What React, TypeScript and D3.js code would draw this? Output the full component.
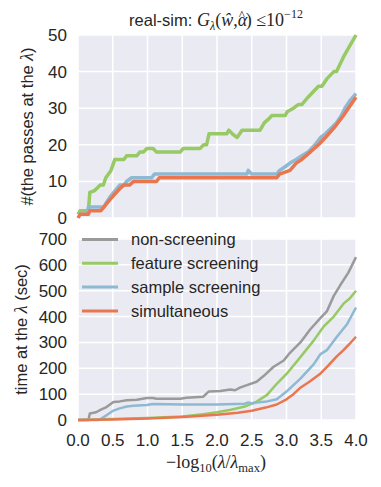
import React from "react";
import * as d3 from "d3";

const W = 381;
const H = 487;

// x ticks
const xTicks = [0, 0.5, 1, 1.5, 2, 2.5, 3, 3.5, 4];
const xTickLabels = ["0.0", "0.5", "1.0", "1.5", "2.0", "2.5", "3.0", "3.5", "4.0"];
const passesTicks = [0, 10, 20, 30, 40, 50];
const timeTicks = [0, 100, 200, 300, 400, 500, 600, 700];

// Top plot: number of passes
const featPassX = [0, 0.03, 0.15, 0.17, 0.24, 0.32, 0.365, 0.4, 0.475, 0.53, 0.66, 0.7, 0.845, 0.89, 0.94, 0.99, 1.08, 1.13, 1.47, 1.515, 1.755, 1.81, 1.85, 1.885, 2.14, 2.17, 2.22, 2.29, 2.36, 2.62, 2.68, 2.74, 2.79, 2.98, 3.01, 3.1, 3.17, 3.22, 3.31, 3.46, 3.51, 3.58, 3.68, 3.72, 3.82, 3.91, 4.0];
const featPassY = [1, 2, 2, 7, 7.5, 9, 9, 11, 13, 16, 16, 17, 17, 18, 18, 19, 19, 18, 18, 19, 19, 20, 20, 23, 23, 24, 23, 22, 24, 24, 26, 27, 28, 28, 29, 30, 31, 31, 33, 36, 36, 38, 40, 40, 44, 47, 50];

const sampPassX = [0, 0.13, 0.15, 0.37, 0.4, 0.47, 0.6, 0.66, 0.7, 0.77, 1.06, 1.1, 2.43, 2.45, 2.5, 2.86, 2.9, 2.98, 3.05, 3.14, 3.22, 3.31, 3.41, 3.49, 3.56, 3.72, 3.79, 3.84, 3.91, 4.0];
const sampPassY = [1, 1, 3, 3, 4, 6, 9, 9, 10, 11, 11, 12, 12, 13, 12, 12, 13, 14, 15, 16, 17, 18, 20, 22, 23, 26, 28, 30, 32, 34];

const simPassX = [0, 0.03, 0.15, 0.17, 0.33, 0.46, 0.53, 0.6, 0.66, 0.74, 0.8, 1.13, 1.17, 2.86, 2.9, 3.05, 3.14, 3.22, 3.34, 3.46, 3.56, 3.7, 3.82, 3.89, 4.0];
const simPassY = [0, 1, 1, 2, 2, 5, 6.5, 8, 9, 9, 10, 10, 11, 11, 12, 13, 15, 16, 18, 20, 22, 25, 28, 30, 33];

// Bottom plot: time (sec)
const nonTimeX = [0, 0.15, 0.17, 0.26, 0.33, 0.41, 0.51, 0.6, 0.7, 0.845, 0.99, 1.08, 1.13, 1.47, 1.56, 1.8, 1.88, 2.05, 2.19, 2.26, 2.33, 2.43, 2.57, 2.67, 2.81, 2.96, 3.05, 3.2, 3.34, 3.49, 3.58, 3.68, 3.77, 3.89, 4.0];
const nonTimeY = [0, 0, 25, 30, 40, 50, 70, 72, 76, 78, 85, 85, 82, 82, 86, 90, 110, 112, 118, 115, 125, 135, 148, 170, 205, 230, 260, 300, 350, 395, 420, 480, 520, 570, 630];

const featTimeX = [0, 0.5, 1.0, 1.5, 1.8, 2.0, 2.2, 2.4, 2.57, 2.72, 2.86, 3.0, 3.2, 3.39, 3.53, 3.68, 3.82, 3.91, 4.0];
const featTimeY = [0, 4, 8, 14, 22, 30, 40, 52, 71, 97, 140, 178, 243, 307, 360, 400, 450, 470, 500];

const sampTimeX = [0, 0.3, 0.33, 0.42, 0.5, 0.6, 0.7, 0.8, 0.99, 1.08, 1.5, 2.0, 2.4, 2.45, 2.5, 2.57, 2.72, 2.86, 3.0, 3.2, 3.39, 3.49, 3.58, 3.72, 3.87, 4.0];
const sampTimeY = [0, 0, 5, 20, 35, 45, 52, 55, 58, 62, 60, 60, 63, 68, 64, 68, 72, 80, 110, 160, 215, 255, 270, 320, 370, 435];

const simTimeX = [0, 0.5, 1.0, 1.5, 2.0, 2.3, 2.5, 2.7, 2.86, 3.0, 3.1, 3.2, 3.34, 3.49, 3.6, 3.72, 3.82, 3.91, 4.0];
const simTimeY = [0, 2, 6, 12, 20, 28, 36, 48, 60, 80, 100, 125, 150, 180, 210, 245, 270, 295, 322];

const legendLabels = ["non-screening", "feature screening", "sample screening", "simultaneous"];

const GRAY = "#9a9a9a";
const GREEN = "#97c965";
const BLUE = "#8db9d3";
const ORANGE = "#ea764f";
const BG = "#eaeaf2";
const SANS = "Liberation Sans, Arial, sans-serif";
const SERIF = "Liberation Serif, Times New Roman, serif";
const TICK_FS = 17;

const X0 = 78;
const X1 = 356;

const x = d3.scaleLinear().domain([0, 4]).range([X0, X1]);
const yTop = d3.scaleLinear().domain([0, 50]).range([218, 35]);
const yBot = d3.scaleLinear().domain([0, 700]).range([420, 239]);

function path(xs: number[], ys: number[], y: d3.ScaleLinear<number, number>) {
  const pts = xs.map((v, i) => [v, ys[i]] as [number, number]);
  return d3
    .line<[number, number]>()
    .x((d) => x(d[0]))
    .y((d) => y(d[1]))(pts) as string;
}

function Grid({ y, ticks }: { y: d3.ScaleLinear<number, number>; ticks: number[] }) {
  const [yb, yt] = y.range();
  return (
    <g>
      <rect x={X0} y={yt} width={X1 - X0} height={yb - yt} fill={BG} />
      {xTicks.map((t) => (
        <line key={"x" + t} x1={x(t)} x2={x(t)} y1={yt} y2={yb} stroke="#fff" strokeWidth={1.5} />
      ))}
      {ticks.map((t) => (
        <line key={"y" + t} x1={X0} x2={X1} y1={y(t)} y2={y(t)} stroke="#fff" strokeWidth={1.5} />
      ))}
      {ticks.map((t) => (
        <text key={"l" + t} x={67} y={y(t)} dy="0.35em" textAnchor="end" fontFamily={SANS} fontSize={TICK_FS} fill="#262626">
          {t}
        </text>
      ))}
    </g>
  );
}

export default function App() {
  const topSeries = [
    { xs: featPassX, ys: featPassY, c: GREEN },
    { xs: sampPassX, ys: sampPassY, c: BLUE },
    { xs: simPassX, ys: simPassY, c: ORANGE },
  ];
  const botSeries = [
    { xs: nonTimeX, ys: nonTimeY, c: GRAY },
    { xs: featTimeX, ys: featTimeY, c: GREEN },
    { xs: sampTimeX, ys: sampTimeY, c: BLUE },
    { xs: simTimeX, ys: simTimeY, c: ORANGE },
  ];
  const legendColors = [GRAY, GREEN, BLUE, ORANGE];
  return (
    <svg width={W} height={H} style={{ position: "absolute", left: 0, top: 0, background: "#fff" }}>
      {/* Title */}
      <text x={216} y={26} textAnchor="middle" fill="#262626" fontSize={16.5}>
        <tspan fontFamily={SANS}>real-sim: </tspan>
        <tspan fontFamily={SERIF} fontStyle="italic" fontSize={18}>G</tspan>
        <tspan fontFamily={SERIF} fontStyle="italic" fontSize={12} dy={4}>λ</tspan>
        <tspan fontFamily={SERIF} fontSize={18} dy={-4}>(</tspan>
        <tspan fontFamily={SERIF} fontStyle="italic" fontSize={18}>ŵ</tspan>
        <tspan fontFamily={SERIF} fontSize={18}>,</tspan>
        <tspan fontFamily={SERIF} fontStyle="italic" fontSize={18}>α</tspan>
        <tspan fontFamily={SERIF} fontSize={13} dx={-8.5} dy={-7}>^</tspan>
        <tspan fontFamily={SERIF} fontSize={18} dx={1} dy={7}>) ≤10</tspan>
        <tspan fontFamily={SERIF} fontSize={12} dy={-8}>−12</tspan>
      </text>

      {/* Top plot */}
      <Grid y={yTop} ticks={passesTicks} />
      {topSeries.map((s, i) => (
        <path key={i} d={path(s.xs, s.ys, yTop)} fill="none" stroke={s.c} strokeWidth={3.5} strokeLinejoin="round" />
      ))}
      <text transform={`translate(33,${(35 + 218) / 2}) rotate(-90)`} textAnchor="middle" fontFamily={SANS} fontSize={16.5} fill="#262626">
        #(the passes at the <tspan fontFamily={SERIF} fontStyle="italic" fontSize={18}>λ</tspan>)
      </text>

      {/* Bottom plot */}
      <Grid y={yBot} ticks={timeTicks} />
      {botSeries.map((s, i) => (
        <path key={i} d={path(s.xs, s.ys, yBot)} fill="none" stroke={s.c} strokeWidth={2.5} strokeLinejoin="round" />
      ))}
      <text transform={`translate(27,${(239 + 420) / 2}) rotate(-90)`} textAnchor="middle" fontFamily={SANS} fontSize={16.5} fill="#262626">
        time at the <tspan fontFamily={SERIF} fontStyle="italic" fontSize={18}>λ</tspan> (sec)
      </text>

      {/* Legend */}
      {legendLabels.map((l, i) => {
        const yy = 239.5 + i * 23.8;
        return (
          <g key={l}>
            <line x1={82} x2={118} y1={yy} y2={yy} stroke={legendColors[i]} strokeWidth={3} />
            <text x={131} y={yy} dy="0.35em" fontFamily={SANS} fontSize={16.5} fill="#262626">
              {l}
            </text>
          </g>
        );
      })}

      {/* X ticks */}
      {xTicks.map((t, i) => (
        <text key={t} x={x(t)} y={440} dy="0.35em" textAnchor="middle" fontFamily={SANS} fontSize={TICK_FS} fill="#262626">
          {xTickLabels[i]}
        </text>
      ))}

      {/* X label */}
      <text x={216} y={468} textAnchor="middle" fontFamily={SERIF} fontSize={18} fill="#262626">
        <tspan>−log</tspan>
        <tspan fontSize={12.5} dy={4}>10</tspan>
        <tspan dy={-4}>(</tspan>
        <tspan fontStyle="italic">λ</tspan>
        <tspan>/</tspan>
        <tspan fontStyle="italic">λ</tspan>
        <tspan fontSize={12.5} dy={4}>max</tspan>
        <tspan dy={-4}>)</tspan>
      </text>
    </svg>
  );
}
